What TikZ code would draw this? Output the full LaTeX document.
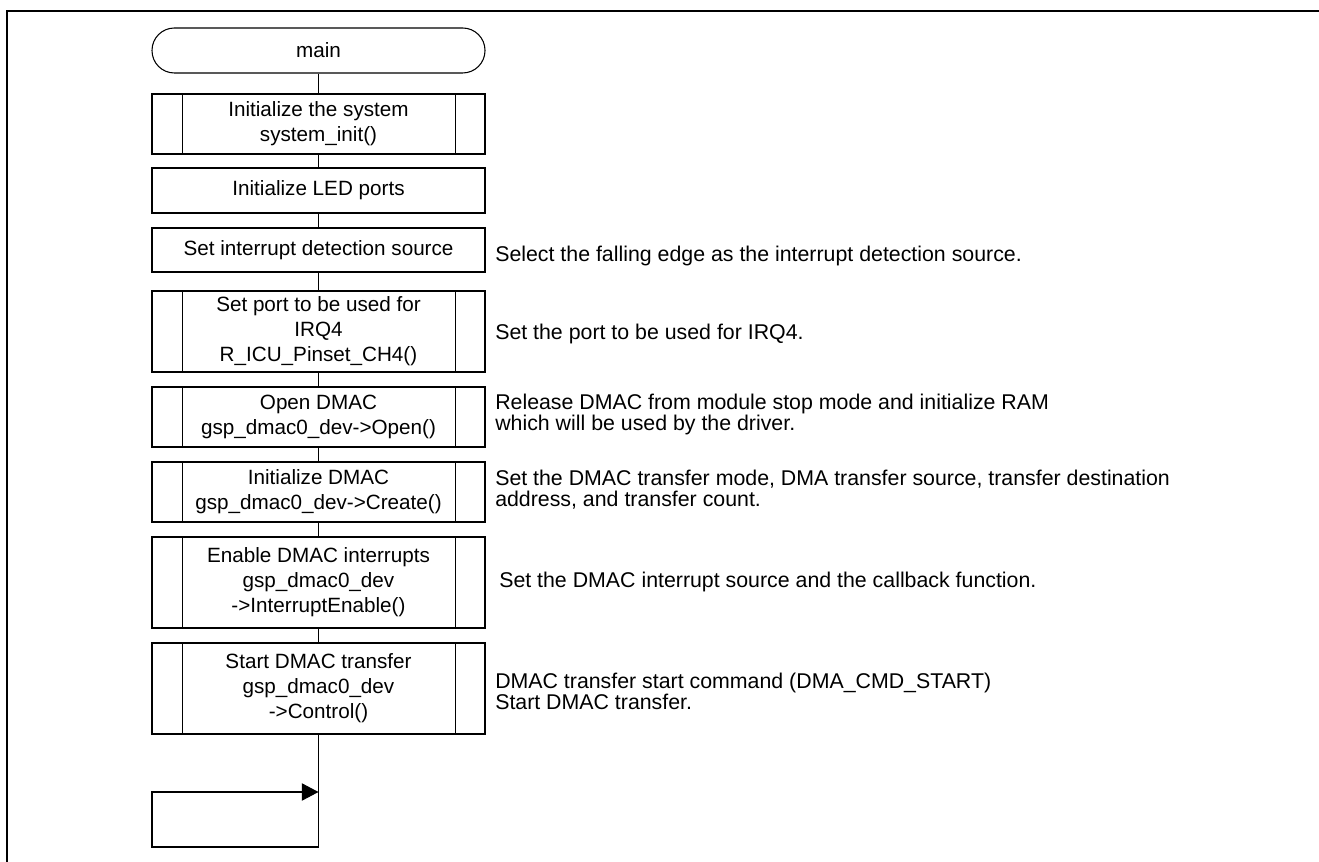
\documentclass[tikz,border=0pt]{standalone}
\usepackage{fontspec}
\setmainfont{Liberation Sans}
\usetikzlibrary{arrows.meta}
\begin{document}
\begin{tikzpicture}[x=0.75pt,y=-0.75pt,
  every node/.style={font=\fontsize{15.5pt}{18.75pt}\selectfont},
  box/.style={draw, line width=0.8pt, minimum width=249.75pt, align=center, inner sep=0pt},
  term/.style={box, rounded corners=16.8pt},
  note/.style={anchor=west, align=left, inner sep=0pt, font=\fontsize{16pt}{16pt}\selectfont},
  link/.style={line width=0.8pt},
  frame/.style={line width=1.6pt}
  ]
\useasboundingbox (0,0) rectangle (1319,862);
\draw[frame] (7,862) -- (7,11) -- (1319,11);

\node[term, minimum height=33.75pt] (m) at (318.5,50.5) {main};
\node[box, minimum height=45pt] (b1) at (318.5,124) {Initialize the system\\system\_init()};
\node[box, minimum height=33.75pt] (b2) at (318.5,190.5) {Initialize LED ports};
\node[box, minimum height=33pt] (b3) at (318.5,250) {Set interrupt detection source};
\node[box, minimum height=60.75pt] (b4) at (318.5,331.5) {Set port to be used for\\IRQ4\\R\_ICU\_Pinset\_CH4()};
\node[box, minimum height=45pt] (b5) at (318.5,417) {Open DMAC\\gsp\_dmac0\_dev->Open()};
\node[box, minimum height=45pt] (b6) at (318.5,492) {Initialize DMAC\\gsp\_dmac0\_dev->Create()};
\node[box, minimum height=68.25pt] (b7) at (318.5,582.5) {Enable DMAC interrupts\\gsp\_dmac0\_dev\\->InterruptEnable()};
\node[box, minimum height=68.25pt] (b8) at (318.5,688.5) {Start DMAC transfer\\gsp\_dmac0\_dev\\->Control()};

\foreach \n in {b1,b4,b5,b6,b7,b8} {
  \draw[link] ([xshift=23.25pt]\n.north west) -- ([xshift=23.25pt]\n.south west);
  \draw[link] ([xshift=-22.5pt]\n.north east) -- ([xshift=-22.5pt]\n.south east);
}

\draw[link] (m.south) -- (b1.north);
\draw[link] (b1.south) -- (b2.north);
\draw[link] (b2.south) -- (b3.north);
\draw[link] (b3.south) -- (b4.north);
\draw[link] (b4.south) -- (b5.north);
\draw[link] (b5.south) -- (b6.north);
\draw[link] (b6.south) -- (b7.north);
\draw[link] (b7.south) -- (b8.north);

\coordinate (l1) at (318.5,847);
\coordinate (l2) at (152,847);
\coordinate (l3) at (152,792);
\coordinate (l4) at (318.5,792);
\draw[link,-{Triangle[length=12.5pt,width=13pt]}] (b8.south) -- (l1) -- (l2) -- (l3) -- (l4);

\node[note] (n3) at (495,256) {Select the falling edge as the interrupt detection source.};
\node[note] (n4) at (495,334) {Set the port to be used for IRQ4.};
\node[note] (n5) at (495,414.5) {Release DMAC from module stop mode and initialize RAM\\which will be used by the driver.};
\node[note] (n6) at (495,489.5) {Set the DMAC transfer mode, DMA transfer source, transfer destination\\address, and transfer count.};
\node[note] (n7) at (499,582) {Set the DMAC interrupt source and the callback function.};
\node[note] (n8) at (495,691.5) {DMAC transfer start command (DMA\_CMD\_START)\\Start DMAC transfer.};
\end{tikzpicture}
\end{document}
